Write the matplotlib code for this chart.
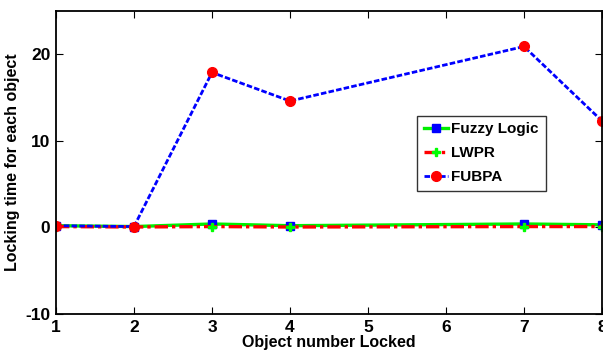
import matplotlib
matplotlib.use("Agg")
import matplotlib.pyplot as plt

plt.rcParams["font.family"] = ["Liberation Sans", "DejaVu Sans"]
plt.rcParams["font.weight"] = "bold"
plt.rcParams["axes.unicode_minus"] = False

x = [1, 2, 3, 4, 7, 8]
fuzzy = [0.2, 0.1, 0.4, 0.2, 0.4, 0.3]
lwpr = [0.1, 0.05, 0.1, 0.05, 0.1, 0.1]
fubpa = [0.2, 0.1, 17.9, 14.6, 20.9, 12.3]

fig = plt.figure(figsize=(6.03, 3.51), dpi=100)
ax = fig.add_axes([56 / 603, 1 - 314 / 351, 546 / 603, 303 / 351])

ax.plot(x, fuzzy, color="#00ee00", linestyle="-", linewidth=2.4,
        marker="s", markersize=6, markerfacecolor="#0000ff",
        markeredgecolor="#0000ff", label="Fuzzy Logic")
ax.plot(x, lwpr, color="#ff0000", linestyle=(0, (4, 1.2, 1, 1.2)),
        linewidth=2.4, marker="P", markersize=6, markerfacecolor="#00ff00",
        markeredgecolor="#00ff00", label="LWPR")
ax.plot(x, fubpa, color="#0000ff", linestyle=(0, (2, 0.8)), linewidth=2,
        marker="o", markersize=7, markerfacecolor="#ff0000",
        markeredgecolor="#ff0000", label="FUBPA")

ax.set_xlim(1, 8)
ax.set_ylim(-10, 25)
ax.set_xticks(range(1, 9))
ax.set_yticks([-10, 0, 10, 20])
ax.tick_params(direction="in", top=True, right=True, labelsize=12.5,
               length=5, width=0.8, pad=4)
for lbl in ax.get_xticklabels() + ax.get_yticklabels():
    lbl.set_fontweight("bold")
for sp in ax.spines.values():
    sp.set_linewidth(1.3)

ax.set_xlabel("Object number Locked", fontsize=11.5, fontweight="bold",
              labelpad=0.5)
ax.set_ylabel("Locking time for each object", fontsize=11.5,
              fontweight="bold", labelpad=4)

leg = ax.legend(loc="upper left", bbox_to_anchor=(0.661, 0.655),
                fontsize=11, frameon=True, fancybox=False,
                handlelength=1.6, borderpad=0.45, labelspacing=0.65,
                handletextpad=0.2, borderaxespad=0)
leg.get_frame().set_edgecolor("black")
leg.get_frame().set_linewidth(1.0)
for t in leg.get_texts():
    t.set_fontweight("bold")

fig.savefig("out.png", dpi=100)
